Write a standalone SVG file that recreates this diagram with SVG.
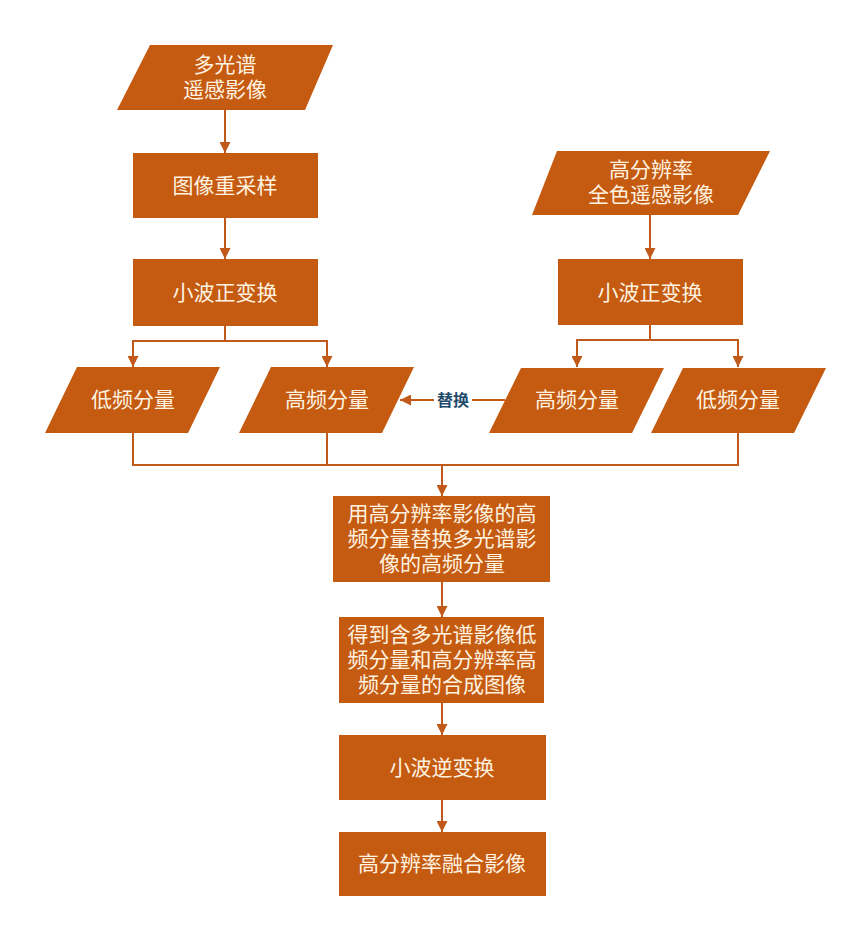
<svg xmlns="http://www.w3.org/2000/svg" width="868" height="941" viewBox="0 0 868 941">
<style>
.n{fill:#C55A11;}
.t{fill:#FFF3E0;font-family:"Liberation Serif","Noto Sans CJK SC",serif;font-size:21px;text-anchor:middle;dominant-baseline:central;}
.c{fill:none;stroke:#C0591A;stroke-width:2;}
.lbl{fill:#1F4A6B;font-family:"Liberation Serif","Noto Sans CJK SC",serif;font-size:16px;font-weight:bold;text-anchor:middle;dominant-baseline:central;}
</style>
<defs>
<marker id="ah" viewBox="0 0 10 10" refX="10" refY="5" markerWidth="5.5" markerHeight="5.5" orient="auto" markerUnits="strokeWidth">
<path d="M0,0 L10,5 L0,10 Z" fill="#C0591A"/>
</marker>
</defs>
<rect width="868" height="941" fill="#FFFFFF"/>
<g id="connectors">
<path class="c" d="M225,110 V153" marker-end="url(#ah)"/>
<path class="c" d="M225,218 V259" marker-end="url(#ah)"/>
<path class="c" d="M225,326 V341 H133 V367" marker-end="url(#ah)"/>
<path class="c" d="M225,341 H327 V367" marker-end="url(#ah)"/>
<path class="c" d="M650,215 V259" marker-end="url(#ah)"/>
<path class="c" d="M650,325 V340 H577 V367" marker-end="url(#ah)"/>
<path class="c" d="M650,340 H738 V367" marker-end="url(#ah)"/>
<path class="c" d="M505,400 H472"/>
<path class="c" d="M434,400 H400" marker-end="url(#ah)"/>
<path class="c" d="M133,433 V465 H738 V433"/>
<path class="c" d="M327,433 V465"/>
<path class="c" d="M442,465 V496" marker-end="url(#ah)"/>
<path class="c" d="M442,582 V617" marker-end="url(#ah)"/>
<path class="c" d="M442,703 V735" marker-end="url(#ah)"/>
<path class="c" d="M442,800 V832" marker-end="url(#ah)"/>
<text class="lbl" x="453" y="400">替换</text>
</g>
<g id="ms-image">
<polygon class="n" points="150,45 333,45 305,110 117,110"/>
<text class="t" x="225" y="65">多光谱</text>
<text class="t" x="225" y="90">遥感影像</text>
</g>
<g id="resample">
<rect class="n" x="133" y="153" width="185" height="65"/>
<text class="t" x="225" y="186">图像重采样</text>
</g>
<g id="dwt-left">
<rect class="n" x="133" y="259" width="185" height="67"/>
<text class="t" x="225" y="293">小波正变换</text>
</g>
<g id="low-left">
<polygon class="n" points="77,367 220,367 188,433 45,433"/>
<text class="t" x="133" y="400">低频分量</text>
</g>
<g id="high-left">
<polygon class="n" points="271,367 414,367 382,433 239,433"/>
<text class="t" x="327" y="400">高频分量</text>
</g>
<g id="pan-image">
<polygon class="n" points="557,151 770,151 738,215 532,215"/>
<text class="t" x="651" y="170">高分辨率</text>
<text class="t" x="651" y="195">全色遥感影像</text>
</g>
<g id="dwt-right">
<rect class="n" x="558" y="259" width="185" height="66"/>
<text class="t" x="650" y="293">小波正变换</text>
</g>
<g id="high-right">
<polygon class="n" points="521,368 664,368 632,433 489,433"/>
<text class="t" x="577" y="400">高频分量</text>
</g>
<g id="low-right">
<polygon class="n" points="683,368 826,368 794,433 651,433"/>
<text class="t" x="738" y="400">低频分量</text>
</g>
<g id="replace">
<rect class="n" x="333" y="496" width="217" height="86"/>
<text class="t" x="442" y="514">用高分辨率影像的高</text>
<text class="t" x="442" y="539">频分量替换多光谱影</text>
<text class="t" x="442" y="564">像的高频分量</text>
</g>
<g id="composite">
<rect class="n" x="339" y="617" width="205" height="86"/>
<text class="t" x="442" y="635">得到含多光谱影像低</text>
<text class="t" x="442" y="660">频分量和高分辨率高</text>
<text class="t" x="442" y="685">频分量的合成图像</text>
</g>
<g id="idwt">
<rect class="n" x="339" y="735" width="207" height="65"/>
<text class="t" x="442" y="768">小波逆变换</text>
</g>
<g id="fused">
<rect class="n" x="339" y="832" width="207" height="64"/>
<text class="t" x="442" y="864">高分辨率融合影像</text>
</g>
</svg>
